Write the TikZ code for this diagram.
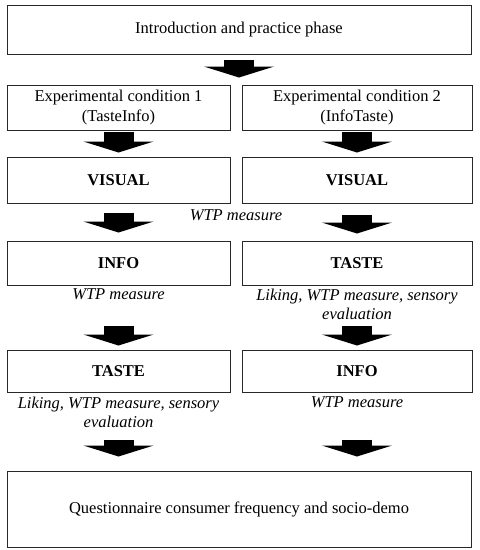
\documentclass[tikz,border=0pt]{standalone}
\usepackage{fontspec}
\setmainfont{Liberation Serif}
\usetikzlibrary{arrows.meta, positioning}
\definecolor{myframe}{RGB}{40,40,40}
\tikzset{
  box/.style={rectangle, draw=myframe, line width=1pt, align=center,
    font=\fontsize{16.5}{20}\selectfont, inner sep=0pt},
  leftbox/.style={box, minimum width=223pt},
  rightbox/.style={box, minimum width=230pt},
  widebox/.style={box, minimum width=464pt},
  note/.style={align=center, inner sep=0pt,
    font=\fontsize{16.5}{19}\selectfont\itshape},
  bigarrow/.style={line width=30pt, black, -{Triangle[width=70pt, length=11pt]}}
}

\begin{document}
\begin{tikzpicture}[x=1pt, y=1pt]
  \useasboundingbox (0,0) rectangle (480,-550);
  \node[widebox, minimum height=49pt] (intro) at (239,-29.5) {Introduction and practice phase};
  \node[leftbox, minimum height=45pt, below=30pt of intro.south west, anchor=north west] (cond1)
    {Experimental condition 1\\(TasteInfo)};
  \node[rightbox, minimum height=45pt, right=11pt of cond1] (cond2)
    {Experimental condition 2\\(InfoTaste)};
  % left column: TasteInfo
  \node[leftbox, minimum height=46pt, below=26pt of cond1] (vis1) {\textbf{VISUAL}};
  \node[leftbox, minimum height=44pt, below=37pt of vis1]  (info1) {\textbf{INFO}};
  \node[leftbox, minimum height=42pt, below=64pt of info1] (taste1) {\textbf{TASTE}};
  % right column: InfoTaste
  \node[rightbox, minimum height=46pt, below=26pt of cond2] (vis2) {\textbf{VISUAL}};
  \node[rightbox, minimum height=44pt, below=37pt of vis2]  (taste2) {\textbf{TASTE}};
  \node[rightbox, minimum height=42pt, below=64pt of taste2] (info2) {\textbf{INFO}};
  \node[widebox, minimum height=76pt, below=78pt of taste1.south west, anchor=north west] (quest)
    {Questionnaire consumer frequency and socio-demo};

  % measures
  \path (vis1.south east) -- node[note, below=6pt] (wtp0) {WTP measure} (vis2.south west);
  \node[note, below=3pt of info1]  (wtp1)  {WTP measure};
  \node[note, below=3pt of taste2] (sens2) {Liking, WTP measure, sensory\\evaluation};
  \node[note, below=4pt of taste1] (sens1) {Liking, WTP measure, sensory\\evaluation};
  \node[note, below=4pt of info2]  (wtp2)  {WTP measure};

  % block arrows
  \draw[bigarrow, shorten <=5pt, shorten >=7pt] (intro.south) -- (intro.south |- cond1.north);
  \draw[bigarrow, shorten <=1pt, shorten >=4pt] (cond1.south) -- (vis1.north);
  \draw[bigarrow, shorten <=1pt, shorten >=4pt] (cond2.south) -- (vis2.north);
  \draw[bigarrow, shorten <=9pt, shorten >=8pt] (vis1.south) -- (info1.north);
  \draw[bigarrow, shorten <=11pt, shorten >=7pt] (vis2.south) -- (taste2.north);
  \draw[bigarrow, shorten <=40pt, shorten >=4pt] (info1.south) -- (taste1.north);
  \draw[bigarrow, shorten <=40pt, shorten >=4pt] (taste2.south) -- (info2.north);
  \draw[bigarrow, shorten <=47pt, shorten >=14pt] (taste1.south) -- (taste1.south |- quest.north);
  \draw[bigarrow, shorten <=47pt, shorten >=14pt] (info2.south) -- (info2.south |- quest.north);
\end{tikzpicture}
\end{document}
